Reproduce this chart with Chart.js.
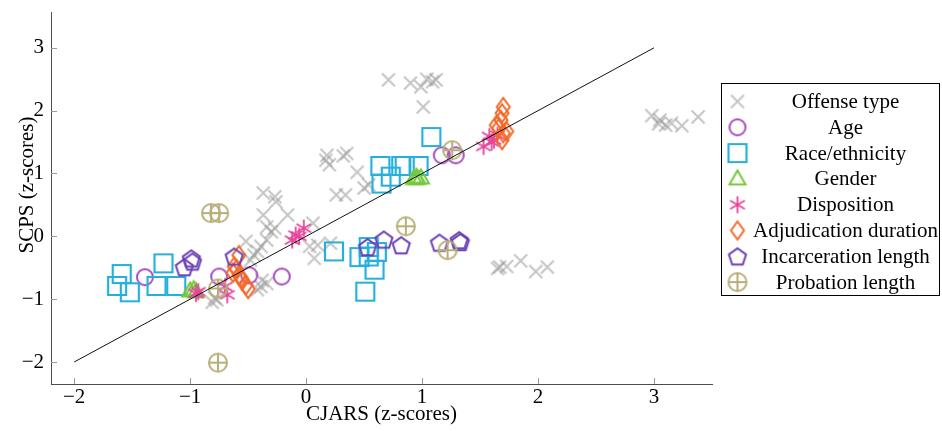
<!DOCTYPE html>
<html>
<head>
<meta charset="utf-8">
<script src="https://cdn.jsdelivr.net/npm/chart.js@4.4.1/dist/chart.umd.min.js"></script>
<style>
  html, body { margin: 0; background: #fff; }
</style>
</head>
<body>
<canvas id="chart" width="942" height="431"></canvas>
<script>
// Axis ticks and the y = x reference line
const xTicks = [-2, -1, 0, 1, 2, 3];
const yTicks = [-2, -1, 0, 1, 2, 3];
const refLine = [-2, 3];

// Offense type (gray crosses)
const offenseX = [0.71, 0.90, 0.99, 1.04, 1.12, 1.09, 1.01,
    2.98, 3.04, 3.05, 3.10, 3.15, 3.24, 3.38,
    1.65, 1.67, 1.73, 1.85, 1.98, 2.08,
    0.18, 0.17, 0.20, 0.35, 0.32, 0.44, 0.26, 0.34, 0.50, 0.54, -0.37, -0.27, -0.26,
    -0.37, -0.16, -0.34, -0.30, -0.27, -0.52, -0.34, -0.39, -0.42, -0.45, -0.48,
    0.06, 0.03, 0.10, 0.07, 0.21, -0.38, -0.34, -0.39, -0.42, -0.79, -0.81, -0.77];
const offenseY = [2.49, 2.44, 2.38, 2.50, 2.49, 2.46, 2.06,
    1.92, 1.79, 1.85, 1.77, 1.80, 1.76, 1.90,
    -0.51, -0.49, -0.48, -0.39, -0.56, -0.49,
    1.29, 1.21, 1.14, 1.32, 1.28, 1.02, 0.66, 0.66, 0.77, 0.82, 0.69, 0.63, 0.55,
    0.34, 0.34, 0.15, 0.07, 0.13, -0.08, -0.06, -0.16, -0.24, -0.30, -0.38,
    0.21, -0.16, -0.14, -0.35, -0.11, -0.70, -0.75, -0.80, -0.85, -0.98, -1.05, -1.01];

const ageX = [-1.39, -0.75, -0.49, -0.21, 1.17, 1.29];
const ageY = [-0.65, -0.64, -0.62, -0.64, 1.29, 1.29];

const raceX = [-1.59, -1.63, -1.52, -1.23, -1.29, -1.12, 0.64, 0.65, 0.73, 0.82, 0.85, 0.97, 1.08,
    0.24, 0.54, 0.46, 0.61, 0.59, 0.51, 0.54];
const raceY = [-0.60, -0.79, -0.89, -0.43, -0.79, -0.79, 1.12, 0.84, 0.95, 1.12, 1.12, 1.12, 1.58,
    -0.24, -0.17, -0.33, -0.25, -0.53, -0.88, -0.32];

const genderX = [-1.00, -0.97, -0.95, 0.93, 0.96, 0.99, 0.95];
const genderY = [-0.87, -0.85, -0.88, 0.92, 0.92, 0.93, 0.94];

const dispositionX = [-0.93, -0.95, -0.70, -0.68, -0.12, -0.06, -0.02, -0.09, 1.53, 1.58, 1.62, 1.65, 1.60];
const dispositionY = [-0.88, -0.91, -0.80, -0.93, -0.06, 0.00, 0.13, 0.02, 1.43, 1.59, 1.53, 1.61, 1.50];

const adjudicationX = [-0.58, -0.62, -0.63, -0.58, -0.55, -0.52, -0.50, -0.60, -0.56,
    1.70, 1.69, 1.68, 1.64, 1.70, 1.73, 1.69, 1.66];
const adjudicationY = [-0.30, -0.48, -0.58, -0.62, -0.70, -0.78, -0.84, -0.52, -0.66,
    2.06, 1.96, 1.85, 1.77, 1.64, 1.67, 1.53, 1.72];

const incarcerationX = [-0.99, -0.98, -1.05, -0.62, 0.53, 0.67, 0.82, 1.15, 1.32, 1.33];
const incarcerationY = [-0.35, -0.40, -0.49, -0.32, -0.17, -0.05, -0.14, -0.10, -0.06, -0.09];

const probationX = [-0.76, -0.82, -0.75, -0.76, 0.86, 1.22, 1.26];
const probationY = [-2.01, 0.37, 0.37, -0.83, 0.16, -0.22, 1.37];

const FONT = '"Liberation Serif", "DejaVu Serif", serif';
const FS = 21;

// draw one hollow mark into its own little canvas, used as pointStyle
function makeMark(kind, color, lw) {
    const size = 24;
    const cv = document.createElement('canvas');
    cv.width = size; cv.height = size;
    const c = cv.getContext('2d');
    const m = size / 2;
    c.strokeStyle = color;
    c.lineWidth = lw;
    c.beginPath();
    if (kind === 'cross') {
        const r = 6.5;
        c.moveTo(m - r, m - r); c.lineTo(m + r, m + r);
        c.moveTo(m - r, m + r); c.lineTo(m + r, m - r);
    } else if (kind === 'circle') {
        c.arc(m, m, 8, 0, Math.PI * 2);
    } else if (kind === 'square') {
        c.rect(m - 9, m - 9, 18, 18);
    } else if (kind === 'triangle') {
        c.moveTo(m, m - 8.5); c.lineTo(m + 8, m + 5.5); c.lineTo(m - 8, m + 5.5); c.closePath();
    } else if (kind === 'asterisk') {
        for (let k = 0; k < 3; k++) {
            const a = Math.PI / 2 + k * Math.PI / 3;
            c.moveTo(m + 8.5 * Math.cos(a), m + 8.5 * Math.sin(a));
            c.lineTo(m - 8.5 * Math.cos(a), m - 8.5 * Math.sin(a));
        }
    } else if (kind === 'diamond') {
        c.moveTo(m, m - 9); c.lineTo(m + 6.5, m); c.lineTo(m, m + 9); c.lineTo(m - 6.5, m); c.closePath();
    } else if (kind === 'pentagon') {
        for (let k = 0; k < 5; k++) {
            const a = -Math.PI / 2 + k * 2 * Math.PI / 5;
            const px = m + 9 * Math.cos(a), py = m + 1 + 9 * Math.sin(a);
            if (k === 0) c.moveTo(px, py); else c.lineTo(px, py);
        }
        c.closePath();
    } else if (kind === 'oplus') {
        c.arc(m, m, 9, 0, Math.PI * 2);
        c.moveTo(m - 9, m); c.lineTo(m + 9, m);
        c.moveTo(m, m - 9); c.lineTo(m, m + 9);
    }
    c.stroke();
    return cv;
}

const series = [
    { label: 'Offense type', xs: offenseX, ys: offenseY, mark: makeMark('cross', 'rgba(150,150,150,0.55)', 2) },
    { label: 'Age', xs: ageX, ys: ageY, mark: makeMark('circle', '#a64cc0', 2) },
    { label: 'Race/ethnicity', xs: raceX, ys: raceY, mark: makeMark('square', '#27afdc', 2.2) },
    { label: 'Gender', xs: genderX, ys: genderY, mark: makeMark('triangle', '#76c93b', 2) },
    { label: 'Disposition', xs: dispositionX, ys: dispositionY, mark: makeMark('asterisk', '#e8459b', 1.8) },
    { label: 'Adjudication duration', xs: adjudicationX, ys: adjudicationY, mark: makeMark('diamond', '#f36a2b', 2) },
    { label: 'Incarceration length', xs: incarcerationX, ys: incarcerationY, mark: makeMark('pentagon', '#6a3fb4', 2) },
    { label: 'Probation length', xs: probationX, ys: probationY, mark: makeMark('oplus', '#b8af78', 2) }
];

const datasets = series.map((s, i) => ({
    label: s.label,
    data: s.xs.map((x, j) => ({ x: x, y: s.ys[j] })),
    pointStyle: s.mark,
    pointRadius: 9,
    order: series.length - i
}));
datasets.push({
    label: 'fit',
    data: refLine.map(v => ({ x: v, y: v })),
    showLine: true,
    borderColor: '#111',
    borderWidth: 1,
    pointRadius: 0,
    order: 0
});

// small inward tick marks like pgfplots, plus the rotated y label
const axisExtras = {
    id: 'axisExtras',
    afterDraw(chart) {
        const ctx = chart.ctx;
        const xs = chart.scales.x, ys = chart.scales.y;
        const a = chart.chartArea;
        ctx.save();
        ctx.strokeStyle = '#999';
        ctx.lineWidth = 1;
        ctx.beginPath();
        xTicks.forEach(v => {
            const px = Math.round(xs.getPixelForValue(v)) + 0.5;
            ctx.moveTo(px, a.bottom); ctx.lineTo(px, a.bottom - 6);
        });
        yTicks.forEach(v => {
            const py = Math.round(ys.getPixelForValue(v)) + 0.5;
            ctx.moveTo(a.left, py); ctx.lineTo(a.left + 6, py);
        });
        ctx.stroke();

        ctx.translate(27, 185);
        ctx.rotate(-Math.PI / 2);
        ctx.font = FS + 'px ' + FONT;
        ctx.fillStyle = '#000';
        ctx.textAlign = 'center';
        ctx.textBaseline = 'middle';
        ctx.fillText('SCPS (z-scores)', 0, 0);
        ctx.restore();
    }
};

// boxed legend on the right with centred text
const boxLegend = {
    id: 'boxLegend',
    afterDraw(chart) {
        const ctx = chart.ctx;
        const left = chart.chartArea.right + 9.5, top = 83.5, w = 218, h = 212;
        ctx.save();
        ctx.strokeStyle = '#000';
        ctx.lineWidth = 1;
        ctx.strokeRect(left, top, w, h);
        ctx.font = FS + 'px ' + FONT;
        ctx.fillStyle = '#000';
        ctx.textAlign = 'center';
        ctx.textBaseline = 'middle';
        series.forEach((s, i) => {
            const y = top + 18 + i * 25.8;
            ctx.drawImage(s.mark, left + 16 - s.mark.width / 2, y - s.mark.height / 2);
            ctx.fillText(s.label, left + 124, y + 1);
        });
        ctx.restore();
    }
};

const fmt = v => (v < 0 ? '\u2212' + Math.abs(v) : String(v));

new Chart(document.getElementById('chart'), {
    type: 'scatter',
    data: { datasets: datasets },
    options: {
        responsive: false,
        animation: false,
        layout: { padding: { left: 0, right: 230, top: 12, bottom: 0 } },
        plugins: { legend: { display: false }, tooltip: { enabled: false } },
        scales: {
            x: {
                min: -2.2, max: 3.5,
                afterBuildTicks: s => { s.ticks = xTicks.map(v => ({ value: v })); },
                afterFit: s => { s.height = 47; s.paddingLeft = 0; s.paddingRight = 0; },
                grid: { display: false, tickLength: 0 },
                border: { display: true, color: '#4d4d4d', width: 1 },
                ticks: { callback: fmt, color: '#000', padding: 1, font: { family: FONT, size: FS } },
                title: { display: true, text: 'CJARS (z-scores)', color: '#000', padding: { top: 0, bottom: 4 }, font: { family: FONT, size: FS } }
            },
            y: {
                min: -2.35, max: 3.57,
                afterBuildTicks: s => { s.ticks = yTicks.map(v => ({ value: v })); },
                afterFit: s => { s.width = 51; s.paddingTop = 0; s.paddingBottom = 0; },
                grid: { display: false, tickLength: 0 },
                border: { display: true, color: '#4d4d4d', width: 1 },
                ticks: { callback: fmt, color: '#000', padding: 7, font: { family: FONT, size: FS } },
                title: { display: false }
            }
        }
    },
    plugins: [axisExtras, boxLegend]
});
</script>
</body>
</html>
